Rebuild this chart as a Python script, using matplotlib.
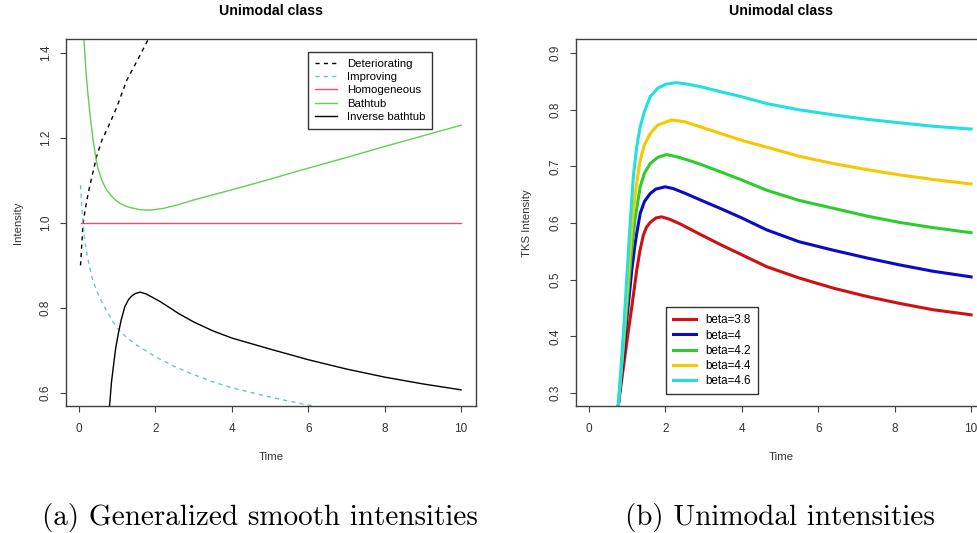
import matplotlib
matplotlib.use('Agg')
import matplotlib.pyplot as plt

plt.rcParams['font.family'] = ['Liberation Sans', 'DejaVu Sans']

# ---- left panel: generalized smooth intensities ----
det_t = [0.04, 0.06, 0.08, 0.11, 0.16, 0.22, 0.29, 0.38, 0.46, 0.6, 0.81, 1.0, 1.25, 1.5, 1.81]
det_y = [0.90, 0.93, 0.96, 1.00, 1.03, 1.06, 1.09, 1.125, 1.156, 1.195, 1.235, 1.275, 1.336, 1.378, 1.432]

imp_t = [0.04, 0.07, 0.1, 0.15, 0.22, 0.33, 0.45, 0.55, 0.7, 0.9, 1.0, 1.25, 1.5, 2.0, 2.5, 3.0, 3.5, 4.0, 5.0, 6.0, 6.5]
imp_y = [1.089, 1.04, 1.005, 0.96, 0.92, 0.874, 0.843, 0.822, 0.797, 0.766, 0.752, 0.73, 0.713, 0.685, 0.662,
         0.643, 0.626, 0.612, 0.59, 0.571, 0.562]

hom_t = [0.04, 10.0]
hom_y = [1.0, 1.0]

bath_t = [0.10, 0.13, 0.18, 0.24, 0.3, 0.37, 0.45, 0.5, 0.6, 0.72, 0.9, 1.07, 1.3, 1.6, 1.85, 2.2, 2.6, 3.0,
          4.0, 5.0, 6.0, 7.0, 8.0, 9.0, 10.0]
bath_y = [1.50, 1.432, 1.36, 1.297, 1.245, 1.195, 1.148, 1.127, 1.10, 1.078, 1.058, 1.046, 1.037, 1.031, 1.030,
          1.034, 1.043, 1.054, 1.078, 1.103, 1.129, 1.154, 1.18, 1.205, 1.23]

inv_t = [0.78, 0.81, 0.85, 0.9, 0.96, 1.03, 1.1, 1.2, 1.3, 1.38, 1.48, 1.6, 1.75, 1.9, 2.12, 2.4, 2.6, 3.0,
         3.5, 4.0, 5.0, 6.0, 7.0, 8.0, 9.0, 10.0]
inv_y = [0.55, 0.58, 0.625, 0.662, 0.705, 0.74, 0.77, 0.803, 0.82, 0.828, 0.834, 0.837, 0.833, 0.826, 0.815,
         0.799, 0.787, 0.767, 0.746, 0.729, 0.703, 0.678, 0.656, 0.637, 0.621, 0.607]

left_labels = ['Deteriorating', 'Improving', 'Homogeneous', 'Bathtub', 'Inverse bathtub']

# ---- right panel: TKS unimodal intensities ----
beta_labels = ['beta=3.8', 'beta=4', 'beta=4.2', 'beta=4.4', 'beta=4.6']

b38_t = [0.74, 0.78, 0.9, 1.0, 1.12, 1.25, 1.33, 1.42, 1.5, 1.6, 1.75, 1.9, 2.1, 2.4, 2.91, 3.5, 4.0, 4.65,
         5.5, 6.4, 7.3, 8.14, 9.0, 10.0]
b38_y = [0.26, 0.285, 0.345, 0.395, 0.452, 0.517, 0.55, 0.578, 0.592, 0.601, 0.609, 0.611, 0.607, 0.598,
         0.58, 0.56, 0.544, 0.523, 0.503, 0.485, 0.47, 0.458, 0.447, 0.438]

b40_t = [0.74, 0.78, 0.9, 0.99, 1.12, 1.2, 1.25, 1.34, 1.45, 1.6, 1.75, 1.99, 2.2, 2.5, 2.91, 3.5, 4.0, 4.65,
         5.5, 6.4, 7.3, 8.14, 9.0, 10.0]
b40_y = [0.26, 0.285, 0.365, 0.43, 0.517, 0.56, 0.582, 0.617, 0.638, 0.652, 0.66, 0.664, 0.661, 0.653,
         0.641, 0.624, 0.609, 0.588, 0.567, 0.552, 0.538, 0.526, 0.515, 0.505]

b42_t = [0.74, 0.78, 0.9, 1.0, 1.1, 1.2, 1.34, 1.45, 1.6, 1.8, 2.03, 2.3, 2.6, 2.91, 3.5, 4.0, 4.65, 5.5, 6.4,
         7.3, 8.14, 9.0, 10.0]
b42_y = [0.26, 0.287, 0.38, 0.46, 0.54, 0.605, 0.664, 0.688, 0.705, 0.716, 0.721, 0.717, 0.711, 0.704,
         0.689, 0.676, 0.658, 0.64, 0.626, 0.612, 0.601, 0.592, 0.583]

b44_t = [0.74, 0.78, 0.9, 1.0, 1.08, 1.16, 1.25, 1.34, 1.45, 1.6, 1.8, 2.16, 2.5, 2.91, 3.5, 4.0, 4.65, 5.5,
         6.4, 7.3, 8.14, 9.0, 10.0]
b44_y = [0.26, 0.29, 0.39, 0.48, 0.555, 0.623, 0.672, 0.711, 0.738, 0.758, 0.773, 0.782, 0.779, 0.77,
         0.757, 0.746, 0.734, 0.718, 0.705, 0.694, 0.685, 0.677, 0.669]

b46_t = [0.74, 0.78, 0.9, 1.0, 1.06, 1.16, 1.25, 1.34, 1.45, 1.6, 1.8, 2.0, 2.29, 2.6, 2.91, 3.5, 4.0, 4.65,
         5.5, 6.4, 7.3, 8.14, 9.0, 10.0]
b46_y = [0.255, 0.29, 0.405, 0.515, 0.582, 0.682, 0.735, 0.77, 0.797, 0.823, 0.838, 0.845, 0.848, 0.845,
         0.841, 0.831, 0.823, 0.811, 0.80, 0.791, 0.783, 0.777, 0.771, 0.766]

beta_colors = ['#d01010', '#0a0ac8', '#2ecc2e', '#f5c800', '#22e0e0']

W, H = 977, 533
fig = plt.figure(figsize=(9.77, 5.33), dpi=100)

ax1 = fig.add_axes([66 / W, 1 - 406 / H, 410 / W, 367 / H])
ax2 = fig.add_axes([576 / W, 1 - 406 / H, 410 / W, 367 / H])

ax1.plot(det_t, det_y, color='black', lw=1, dashes=(3, 3), label=left_labels[0])
ax1.plot(imp_t, imp_y, color='#6cc4c8', lw=1, dashes=(3, 3), label=left_labels[1])
ax1.plot(hom_t, hom_y, color='#df536b', lw=1, label=left_labels[2])
ax1.plot(bath_t, bath_y, color='#61d04f', lw=1, label=left_labels[3])
ax1.plot(inv_t, inv_y, color='black', lw=1, label=left_labels[4])
ax1.set_xlim(-0.34, 10.39)
ax1.set_ylim(0.569, 1.433)
ax1.set_yticks([0.6, 0.8, 1.0, 1.2, 1.4])
ax1.set_yticklabels(['0.6', '0.8', '1.0', '1.2', '1.4'])

for t, y, c, lab in zip([b38_t, b40_t, b42_t, b44_t, b46_t], [b38_y, b40_y, b42_y, b44_y, b46_y],
                        beta_colors, beta_labels):
    ax2.plot(t, y, color=c, lw=2.2, label=lab)
ax2.set_xlim(-0.34, 10.39)
ax2.set_ylim(0.277, 0.925)
ax2.set_yticks([0.3, 0.4, 0.5, 0.6, 0.7, 0.8, 0.9])

for ax in (ax1, ax2):
    ax.set_xticks([0, 2, 4, 6, 8, 10])
    for s in ax.spines.values():
        s.set_color('#404040')
        s.set_linewidth(1)
    ax.tick_params(axis='both', direction='out', length=4.3, width=0.8, color='#404040',
                   labelsize=8.5, labelcolor='#333333')
    ax.tick_params(axis='x', pad=8)
    ax.tick_params(axis='y', pad=6, labelrotation=90)
    for lab in ax.get_yticklabels():
        lab.set_va('center')

leg1 = ax1.legend(loc='upper left', bbox_to_anchor=(0.591, 0.964), borderaxespad=0, fontsize=8.2,
                  handlelength=1.95, handletextpad=0.85, labelspacing=0.28, borderpad=0.6,
                  fancybox=False, framealpha=1, edgecolor='#333333')
leg1.get_frame().set_linewidth(1)
leg2 = ax2.legend(loc='upper left', bbox_to_anchor=(0.2195, 0.269), borderaxespad=0, fontsize=8.4,
                  handlelength=1.95, handletextpad=0.85, labelspacing=0.28, borderpad=0.6,
                  fancybox=False, framealpha=1, edgecolor='#333333')
leg2.get_frame().set_linewidth(1)

# titles, axis labels
fig.text(271 / W, 1 - 11 / H, 'Unimodal class', ha='center', va='center', fontsize=10.2, fontweight='bold')
fig.text(781 / W, 1 - 11 / H, 'Unimodal class', ha='center', va='center', fontsize=10.2, fontweight='bold')
fig.text(271 / W, 1 - 457 / H, 'Time', ha='center', va='center', fontsize=8.2, color='#333333')
fig.text(781 / W, 1 - 457 / H, 'Time', ha='center', va='center', fontsize=8.2, color='#333333')
fig.text(18 / W, 1 - 223 / H, 'Intensity', ha='center', va='center', rotation=90, fontsize=8.2,
         color='#333333')
fig.text(527 / W, 1 - 223 / H, 'TKS Intensity', ha='center', va='center', rotation=90, fontsize=8.2,
         color='#333333')

# sub-captions
fig.text(260 / W, 1 - 525 / H, '(a) Generalized smooth intensities', ha='center', va='baseline',
         fontsize=21, family='cmr10')
fig.text(780 / W, 1 - 525 / H, '(b) Unimodal intensities', ha='center', va='baseline',
         fontsize=21, family='cmr10')

fig.savefig('out.png', dpi=100)
